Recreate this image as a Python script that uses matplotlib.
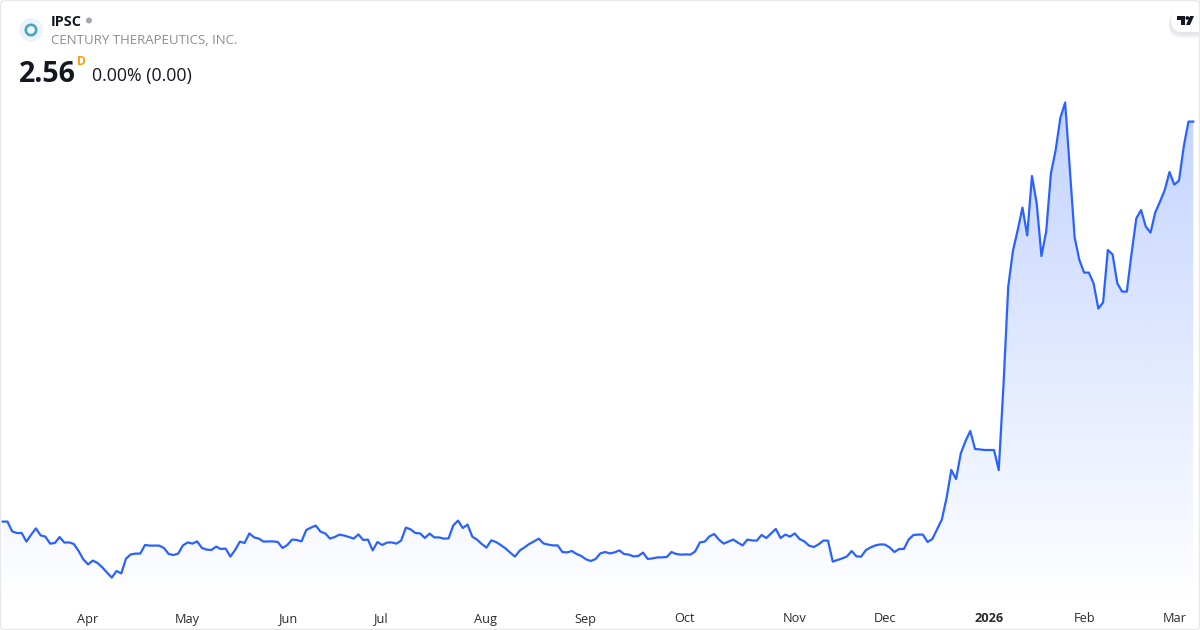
import numpy as np
import matplotlib
matplotlib.use('Agg')
import matplotlib.pyplot as plt
from matplotlib.patches import Circle, FancyBboxPatch, Polygon, Rectangle

plt.rcParams['font.family'] = ['Open Sans', 'DejaVu Sans']

# Daily closes
closes_spring = [.562, .562, .513, .505, .505, .462, .497, .528, .493, .487, .452, .455, .485, .457, .458, .45,
                 .415, .373, .348, .367, .355, .333, .307, .282, .315, .303, .377, .398, .402, .402, .445, .442,
                 .442, .442, .43, .40, .395, .402, .443, .458, .452, .463, .43, .422, .42, .437, .425, .427,
                 .387, .42, .462, .455, .503, .483, .477, .462, .463, .463, .46, .43, .445, .472, .47]
closes_summer = [.463, .52, .532, .542, .512, .503, .477, .485, .497, .492, .485, .477, .498, .47, .472, .418,
                 .46, .445, .457, .458, .452, .467, .532, .523, .505, .503, .48, .502, .483, .483, .477, .478,
                 .543, .567, .53, .547, .487, .472, .45, .432, .468, .46, .445, .428, .407, .387, .417, .433,
                 .45, .463, .477, .453, .447, .443, .443, .41, .408, .415, .40, .39, .373, .365, .375, .403]
closes_autumn = [.41, .403, .408, .418, .40, .397, .388, .39, .407, .375, .378, .383, .383, .385, .41, .40,
                 .397, .398, .397, .413, .458, .462, .488, .50, .472, .452, .462, .472, .457, .443, .472, .468,
                 .467, .495, .48, .503, .525, .48, .497, .487, .503, .475, .463, .442, .435, .448, .467, .467,
                 .362, .37, .378, .388, .415, .388, .387, .42, .433, .443, .448, .447, .433, .41, .425, .425,
                 .472, .495, .497, .497, .46, .475, .523, .572]
closes_rally = [.68, .82, .775, .903, .965, 1.015, .925, .923, .92, .92, .92, .82, 1.245,
                1.737, 1.917, 2.02, 2.132, 1.993, 2.29, 2.153, 1.89, 2.012, 2.303, 2.42, 2.582, 2.657, 2.32,
                1.983, 1.87, 1.807, 1.807, 1.753, 1.627, 1.658, 1.92, 1.898, 1.753, 1.712, 1.712, 1.903,
                2.078, 2.12, 2.037, 2.007, 2.108, 2.162, 2.22, 2.31, 2.247, 2.267, 2.437, 2.562, 2.562]
closes = np.array(closes_spring + closes_summer + closes_autumn + closes_rally)

tick_days = [18, 39, 60.2, 79.8, 101.8, 122.8, 143.8, 167, 186, 207.9, 228, 247]
tick_labels = ['Apr', 'May', 'Jun', 'Jul', 'Aug', 'Sep', 'Oct', 'Nov', 'Dec', '2026', 'Feb', 'Mar']

days = np.arange(len(closes))
line_color = '#2962FF'
x_lim = (-0.57, 252.43)
y_lim = (0.145, 3.17)

fig = plt.figure(figsize=(12, 6.3), dpi=100, facecolor='white')
ax = fig.add_axes([0, 25 / 630, 1, 605 / 630])
for s in ax.spines.values():
    s.set_visible(False)
ax.set_yticks([])
ax.set_xticks(tick_days)
ax.set_xticklabels(tick_labels, fontsize=9.2, color='#2b2b2b')
ax.tick_params(axis='x', length=0, pad=5.4)
ax.get_xticklabels()[9].set_fontweight('bold')

# gradient under the line, clipped to the area below it
grad = np.zeros((256, 1, 4))
grad[:, 0, :3] = matplotlib.colors.to_rgb(line_color)
grad[:, 0, 3] = np.linspace(0.28, 0.0, 256)
im = ax.imshow(grad, extent=[days[0], days[-1], y_lim[0], closes.max()], aspect='auto', origin='upper', zorder=1)
area = Polygon(np.column_stack([np.r_[days[0], days, days[-1]], np.r_[y_lim[0], closes, y_lim[0]]]),
               closed=True, transform=ax.transData, facecolor='none', edgecolor='none')
ax.add_patch(area)
im.set_clip_path(area)
ax.set_xlim(x_lim)
ax.set_ylim(y_lim)

ax.plot(days, closes, color=line_color, lw=1.6, solid_joinstyle='round', zorder=3)

# header and frame, in pixels
top = fig.add_axes([0, 0, 1, 1])
top.set_xlim(0, 1200)
top.set_ylim(630, 0)
top.axis('off')
top.patch.set_alpha(0)

top.add_patch(FancyBboxPatch((0.5, 0.5), 1199, 629, boxstyle='round,pad=0,rounding_size=4',
                             facecolor='none', edgecolor='#e6e8ee', lw=1))

top.add_patch(Circle((31, 30), 12, facecolor='#eef2fb', edgecolor='none'))
top.add_patch(Circle((31, 30), 5.2, facecolor='#f2f6f8', edgecolor='#43a9bd', lw=1.9))
top.text(51, 21.5, 'IPSC', fontsize=10.4, fontweight='bold', color='#131722', va='center', ha='left')
top.add_patch(Circle((89, 20.5), 3, facecolor='#a3a6af', edgecolor='none'))
top.text(51, 41, 'CENTURY THERAPEUTICS, INC.', fontsize=9.5, color='#8a8d96', va='center', ha='left')
top.text(19, 74.5, '2.56', fontsize=20.5, fontweight='bold', color='#131722', va='center', ha='left')
top.text(77, 61.5, 'D', fontsize=8.6, fontweight='bold', color='#ff9800', va='center', ha='left')
top.text(92, 76, '0.00% (0.00)', fontsize=12.8, color='#131722', va='center', ha='left')

# TradingView badge
for off, grow, col in [(4, 2, '#f3f4f6'), (3, 1.5, '#eceef1'), (2, 1, '#e4e6ea')]:
    top.add_patch(FancyBboxPatch((1171 - grow, 10 + off - grow), 50, 22 + 2 * grow,
                                 boxstyle='round,pad=0,rounding_size=12', facecolor=col, edgecolor='none'))
top.add_patch(FancyBboxPatch((1171, 10), 50, 22, boxstyle='round,pad=0,rounding_size=11',
                             facecolor='white', edgecolor='none'))
top.add_patch(Rectangle((1199, 0), 1, 45, facecolor='#e6e8ee', edgecolor='none'))
top.add_patch(Polygon([(1177, 16), (1185, 16), (1185, 25), (1181, 25), (1181, 19.5), (1177, 19.5)],
                      closed=True, facecolor='#131722', edgecolor='none'))
top.add_patch(Circle((1187.3, 18), 1.9, facecolor='#131722', edgecolor='none'))
top.add_patch(Polygon([(1190, 16), (1194, 16), (1190, 25), (1186, 25)],
                      closed=True, facecolor='#131722', edgecolor='none'))

fig.savefig('out.png', dpi=100)
